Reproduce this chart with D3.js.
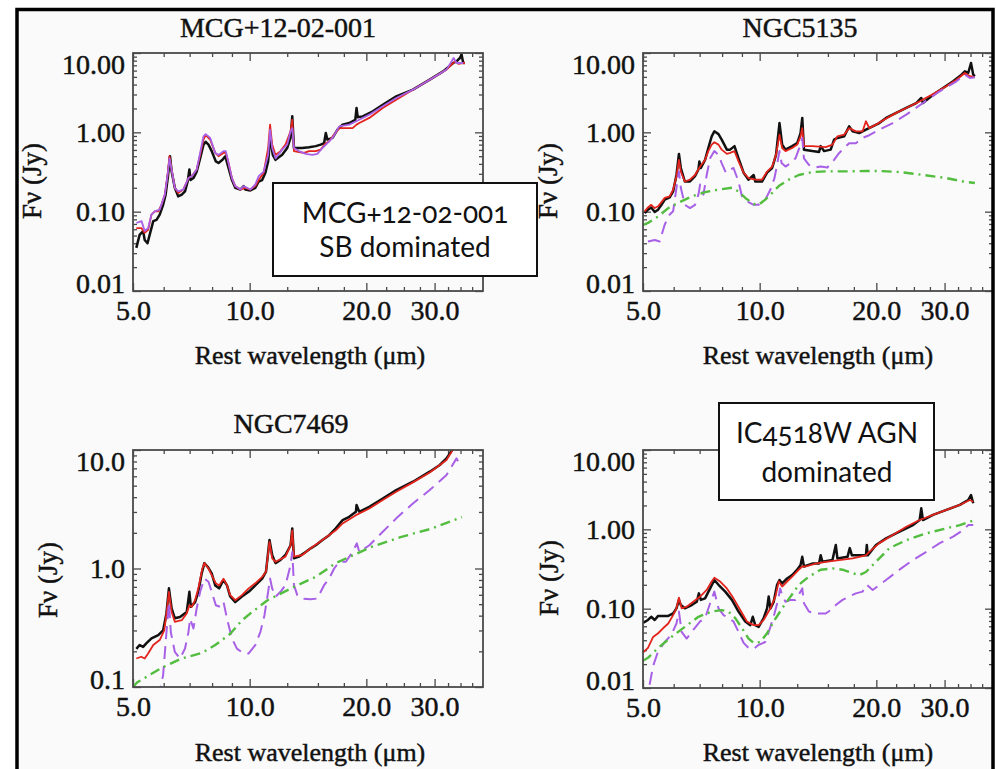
<!DOCTYPE html>
<html>
<head>
<meta charset="utf-8">
<script src="https://cdn.jsdelivr.net/npm/d3@7"></script>
<style>
  body { margin: 0; background: #ffffff; }
  svg { display: block; }
</style>
</head>
<body>
<div id="chart"></div>
<script>
// ---- data: [rest wavelength (um), flux density (Jy)] ----
const titles = ['MCG+12-02-001', 'NGC5135', 'NGC7469', 'IC4518W'];
const xTickValues = [5, 10, 20, 30];
const xMinorValues = [6, 7, 8, 9, 12.5, 15, 17.5, 22.5, 25, 27.5, 32.5, 35, 37.5];
const yTicksWide = [0.01, 0.1, 1, 10];
const yTicksNarrow = [0.1, 1, 10];
const boxTexts = [['MCG+12-02-001', 'SB dominated'], ['IC4518W AGN', 'dominated']];

// MCG+12-02-001
const mcgObserved = [[5.10,0.035],[5.20,0.051],[5.31,0.057],[5.36,0.044],[5.45,0.040],[5.52,0.051],[5.64,0.076],[5.75,0.079],[5.86,0.092],[5.98,0.122],[6.07,0.164],[6.16,0.29],[6.23,0.50],[6.29,0.32],[6.41,0.20],[6.54,0.156],[6.68,0.164],[6.81,0.18],[6.92,0.24],[6.99,0.34],[7.04,0.25],[7.16,0.265],[7.30,0.32],[7.45,0.47],[7.60,0.70],[7.70,0.76],[7.83,0.70],[7.98,0.58],[8.18,0.43],[8.31,0.41],[8.51,0.45],[8.65,0.50],[8.82,0.355],[9.00,0.25],[9.18,0.20],[9.46,0.19],[9.65,0.21],[9.74,0.19],[10.04,0.185],[10.34,0.20],[10.55,0.24],[10.77,0.25],[10.98,0.31],[11.16,0.43],[11.31,0.89],[11.47,0.52],[11.66,0.45],[12.13,0.52],[12.50,0.635],[12.75,0.85],[12.88,1.59],[13.01,0.635],[13.67,0.635],[14.23,0.65],[14.81,0.67],[15.25,0.70],[15.56,0.73],[15.72,0.98],[15.87,0.81],[16.36,0.85],[16.85,1.08],[17.37,1.25],[18.07,1.31],[18.73,1.44],[18.87,2.03],[19.0,1.55],[19.57,1.59],[20.78,1.84],[22.05,2.23],[23.89,2.84],[26.38,3.45],[29.15,4.61],[31.56,5.87],[33.51,7.48],[34.18,7.85],[34.87,8.65],[35.21,9.6],[35.57,7.48],[35.92,7.48]];
const mcgModel = [[5.10,0.062],[5.26,0.062],[5.36,0.054],[5.47,0.059],[5.58,0.092],[5.69,0.101],[5.81,0.101],[5.92,0.122],[6.04,0.164],[6.14,0.29],[6.21,0.50],[6.29,0.34],[6.41,0.20],[6.54,0.172],[6.74,0.19],[6.95,0.265],[7.09,0.28],[7.30,0.34],[7.45,0.52],[7.60,0.81],[7.70,0.92],[7.91,0.81],[8.15,0.55],[8.31,0.50],[8.56,0.55],[8.68,0.55],[8.82,0.41],[9.00,0.265],[9.18,0.21],[9.46,0.19],[9.74,0.20],[10.04,0.19],[10.34,0.21],[10.55,0.25],[10.87,0.31],[11.16,0.635],[11.29,1.25],[11.43,0.70],[11.66,0.52],[12.01,0.58],[12.37,0.70],[12.75,1.03],[12.88,1.44],[13.01,0.58],[13.40,0.565],[13.81,0.55],[14.23,0.58],[14.81,0.58],[15.25,0.605],[15.72,0.73],[16.04,0.77],[16.52,0.935],[17.02,1.13],[17.71,1.13],[18.43,1.13],[18.87,1.25],[19.18,1.31],[20.36,1.52],[22.05,2.03],[23.89,2.58],[26.38,3.45],[29.15,4.61],[32.20,6.17],[33.84,7.85],[34.52,7.3],[35.57,7.48],[35.92,7.48]];
const mcgStarburst = [[5.10,0.072],[5.26,0.076],[5.36,0.057],[5.47,0.062],[5.58,0.092],[5.69,0.101],[5.86,0.106],[6.04,0.164],[6.14,0.29],[6.21,0.47],[6.29,0.34],[6.41,0.20],[6.54,0.18],[6.74,0.19],[6.95,0.265],[7.09,0.28],[7.30,0.34],[7.45,0.55],[7.60,0.89],[7.70,0.95],[7.91,0.85],[8.15,0.55],[8.31,0.52],[8.56,0.58],[8.68,0.58],[8.82,0.41],[9.00,0.265],[9.18,0.21],[9.46,0.19],[9.65,0.21],[10.04,0.19],[10.34,0.22],[10.55,0.28],[10.87,0.32],[11.16,0.52],[11.29,1.08],[11.43,0.635],[11.66,0.47],[12.13,0.605],[12.50,0.70],[12.75,1.03],[12.88,1.13],[13.01,0.635],[13.40,0.58],[13.95,0.535],[14.52,0.52],[14.95,0.535],[15.41,0.635],[15.87,0.73],[16.36,0.85],[17.02,1.19],[18.07,1.25],[19.18,1.44],[20.36,1.67],[22.05,2.13],[23.89,2.71],[26.38,3.45],[29.15,4.61],[32.20,6.17],[33.6,8.65],[34.18,7.48],[35.57,7.48]];

// NGC5135
const ngc5135Observed = [[5.05,0.096],[5.15,0.106],[5.25,0.113],[5.36,0.099],[5.47,0.106],[5.58,0.122],[5.69,0.142],[5.86,0.151],[5.98,0.18],[6.10,0.29],[6.19,0.535],[6.26,0.355],[6.41,0.24],[6.61,0.24],[6.81,0.28],[6.95,0.34],[6.99,0.43],[7.05,0.355],[7.23,0.45],[7.37,0.635],[7.52,0.89],[7.64,1.03],[7.83,0.95],[7.98,0.81],[8.23,0.605],[8.39,0.605],[8.61,0.67],[8.82,0.47],[9.09,0.31],[9.36,0.253],[9.65,0.29],[9.74,0.24],[10.14,0.24],[10.45,0.31],[10.77,0.355],[11.02,0.52],[11.25,1.31],[11.43,0.70],[11.66,0.605],[12.13,0.67],[12.50,0.73],[12.75,0.98],[12.88,1.52],[13.01,0.605],[13.67,0.58],[14.23,0.565],[14.37,0.67],[14.66,0.58],[15.25,0.605],[15.56,0.81],[15.87,0.85],[16.52,0.89],[17.02,1.19],[17.37,1.03],[18.07,0.98],[18.80,1.08],[19.57,1.19],[20.36,1.31],[21.19,1.52],[22.50,1.76],[23.89,2.03],[25.35,2.34],[26.12,2.71],[26.38,2.34],[28.01,2.98],[29.73,3.62],[31.56,4.40],[33.18,5.33],[33.84,5.87],[34.52,5.6],[35.1,7.48],[35.57,5.33],[35.92,5.1]];
const ngc5135Model = [[5.05,0.101],[5.15,0.113],[5.25,0.122],[5.36,0.111],[5.47,0.117],[5.58,0.132],[5.69,0.149],[5.86,0.156],[5.98,0.189],[6.10,0.28],[6.19,0.45],[6.26,0.32],[6.41,0.24],[6.61,0.253],[6.81,0.29],[7.02,0.37],[7.23,0.45],[7.37,0.58],[7.52,0.70],[7.64,0.75],[7.83,0.70],[7.98,0.605],[8.23,0.535],[8.39,0.55],[8.61,0.58],[8.82,0.43],[9.09,0.31],[9.36,0.265],[9.74,0.253],[10.14,0.253],[10.45,0.32],[10.77,0.37],[11.02,0.52],[11.25,0.935],[11.43,0.635],[11.66,0.58],[12.13,0.635],[12.50,0.70],[12.75,0.89],[12.88,1.13],[13.01,0.67],[13.67,0.67],[14.81,0.65],[15.41,0.70],[15.87,0.89],[16.52,0.935],[17.02,1.13],[17.71,1.03],[18.43,1.03],[18.80,1.38],[19.18,1.13],[19.96,1.25],[21.19,1.49],[22.50,1.76],[23.89,2.03],[25.87,2.46],[28.01,3.03],[30.33,3.8],[32.20,4.61],[33.84,5.6],[34.87,5.1],[35.92,4.95]];
const ngc5135Starburst = [[5.15,0.042],[5.36,0.044],[5.52,0.042],[5.69,0.069],[5.86,0.092],[5.98,0.101],[6.10,0.20],[6.19,0.32],[6.26,0.20],[6.41,0.122],[6.61,0.111],[6.81,0.122],[6.95,0.164],[7.02,0.22],[7.16,0.164],[7.30,0.29],[7.45,0.47],[7.64,0.58],[7.83,0.52],[7.98,0.41],[8.18,0.31],[8.39,0.34],[8.56,0.355],[8.82,0.24],[9.00,0.156],[9.27,0.135],[9.65,0.122],[9.94,0.122],[10.34,0.142],[10.66,0.19],[10.92,0.265],[11.09,0.39],[11.25,0.58],[11.39,0.41],[11.66,0.37],[12.01,0.41],[12.37,0.47],[12.75,0.70],[12.88,0.85],[13.01,0.47],[13.40,0.39],[13.81,0.36],[14.37,0.37],[14.95,0.36],[15.56,0.45],[16.04,0.55],[16.52,0.635],[17.02,0.73],[17.71,0.73],[18.43,0.85],[19.18,0.92],[20.36,1.08],[22.05,1.31],[23.89,1.67],[26.38,2.34],[29.15,3.29],[32.20,4.40],[33.84,5.33],[34.87,4.84],[35.92,4.95]];
const ngc5135Agn = [[5.0,0.068],[5.15,0.072],[5.47,0.087],[5.81,0.111],[6.16,0.129],[6.68,0.156],[7.23,0.176],[7.83,0.19],[8.48,0.20],[8.82,0.18],[9.18,0.149],[9.65,0.125],[9.94,0.122],[10.34,0.142],[10.77,0.172],[11.20,0.21],[11.89,0.253],[12.62,0.29],[13.67,0.316],[14.81,0.322],[16.68,0.322],[18.80,0.325],[20.36,0.325],[22.95,0.316],[26.38,0.29],[30.33,0.265],[33.51,0.24],[35.92,0.23]];

// NGC7469
const ngc7469Observed = [[5.10,0.21],[5.20,0.226],[5.31,0.218],[5.41,0.233],[5.58,0.257],[5.81,0.274],[5.98,0.30],[6.10,0.42],[6.19,0.68],[6.29,0.46],[6.41,0.38],[6.61,0.39],[6.88,0.43],[6.99,0.636],[7.05,0.475],[7.23,0.52],[7.37,0.636],[7.52,0.91],[7.64,1.11],[7.80,1.03],[7.98,0.91],[8.15,0.72],[8.34,0.68],[8.56,0.80],[8.74,0.72],[8.91,0.58],[9.18,0.52],[9.55,0.58],[9.94,0.636],[10.34,0.72],[10.77,0.82],[11.02,0.94],[11.25,1.74],[11.43,1.30],[11.66,1.11],[12.01,1.18],[12.37,1.30],[12.75,1.57],[12.88,2.18],[13.01,1.22],[13.40,1.26],[13.95,1.38],[14.37,1.48],[14.81,1.57],[15.41,1.74],[16.04,1.91],[16.68,2.18],[17.37,2.56],[18.07,2.73],[18.80,3.01],[18.87,3.43],[19.18,3.01],[20.36,3.32],[22.05,3.90],[23.89,4.59],[26.38,5.40],[29.15,6.56],[30.94,7.47],[32.20,8.50],[33.18,9.8],[33.6,11]];
const ngc7469Model = [[5.10,0.174],[5.25,0.18],[5.36,0.174],[5.47,0.192],[5.64,0.226],[5.86,0.249],[6.02,0.30],[6.11,0.43],[6.19,0.636],[6.29,0.43],[6.41,0.355],[6.68,0.366],[6.88,0.418],[6.99,0.49],[7.09,0.475],[7.23,0.54],[7.37,0.68],[7.55,1.00],[7.64,1.11],[7.83,1.00],[7.98,0.88],[8.18,0.75],[8.34,0.72],[8.56,0.82],[8.74,0.72],[8.91,0.596],[9.18,0.54],[9.55,0.596],[9.94,0.68],[10.34,0.75],[10.77,0.85],[11.02,0.94],[11.25,1.68],[11.43,1.22],[11.66,1.14],[12.37,1.26],[12.75,1.57],[12.88,2.1],[13.01,1.26],[13.67,1.30],[14.37,1.48],[15.41,1.74],[16.68,2.1],[17.37,2.4],[18.80,2.82],[20.36,3.21],[22.05,3.78],[23.89,4.45],[26.38,5.33],[29.15,6.47],[32.20,8.24],[33.4,10.0],[34.0,11]];
const ngc7469Starburst = [[5.81,0.08],[5.98,0.126],[6.10,0.29],[6.19,0.52],[6.26,0.29],[6.41,0.198],[6.61,0.174],[6.81,0.211],[6.95,0.29],[7.02,0.378],[7.16,0.312],[7.30,0.46],[7.45,0.636],[7.64,0.823],[7.83,0.772],[7.98,0.636],[8.18,0.49],[8.39,0.475],[8.56,0.523],[8.74,0.378],[9.00,0.257],[9.27,0.211],[9.65,0.192],[9.94,0.192],[10.34,0.226],[10.66,0.292],[10.92,0.404],[11.16,0.636],[11.29,0.823],[11.43,0.678],[11.66,0.577],[12.01,0.636],[12.37,0.723],[12.75,1.07],[12.88,1.38],[13.01,0.723],[13.27,0.596],[13.67,0.558],[14.37,0.55],[14.95,0.558],[15.56,0.723],[16.04,0.823],[16.52,1.00],[17.02,1.14],[17.71,1.14],[18.43,1.38],[18.9,1.63],[19.18,1.38],[20.36,1.57],[22.05,2.04],[23.89,2.65],[26.38,3.54],[29.15,4.59],[32.20,6.15],[34.18,8.5],[34.87,7.47]];
const ngc7469Agn = [[5.0,0.10],[5.12,0.109],[5.92,0.145],[6.68,0.174],[7.50,0.193],[8.15,0.226],[8.90,0.28],[9.55,0.365],[10.06,0.42],[11.12,0.54],[13.01,0.70],[14.81,0.85],[16.68,1.11],[20.6,1.52],[24.5,1.84],[29.15,2.15],[35.3,2.71]];

// IC4518W
const ic4518Observed = [[5.0,0.066],[5.15,0.072],[5.25,0.079],[5.36,0.072],[5.47,0.081],[5.64,0.081],[5.81,0.081],[5.98,0.087],[6.10,0.101],[6.19,0.129],[6.26,0.111],[6.41,0.101],[6.68,0.111],[6.88,0.122],[6.97,0.156],[7.05,0.129],[7.23,0.135],[7.45,0.18],[7.64,0.23],[7.83,0.20],[8.15,0.164],[8.48,0.129],[8.82,0.092],[9.18,0.069],[9.46,0.062],[9.6,0.079],[9.74,0.062],[9.94,0.059],[10.24,0.076],[10.45,0.101],[10.55,0.142],[10.66,0.101],[10.87,0.122],[11.09,0.20],[11.25,0.23],[11.43,0.208],[11.77,0.24],[12.13,0.265],[12.50,0.31],[12.75,0.355],[12.88,0.45],[13.01,0.34],[13.67,0.37],[14.23,0.37],[14.37,0.47],[14.52,0.39],[15.41,0.41],[15.72,0.635],[15.87,0.43],[16.85,0.45],[17.08,0.58],[17.3,0.47],[18.07,0.47],[18.80,0.47],[18.9,0.635],[19.0,0.47],[19.96,0.635],[21.19,0.77],[22.95,0.935],[24.86,1.13],[25.87,1.31],[26.12,1.84],[26.38,1.31],[28.01,1.52],[30.33,1.76],[32.85,2.03],[34.52,2.34],[35.1,2.71],[35.57,2.13]];
const ic4518Model = [[5.0,0.028],[5.15,0.032],[5.31,0.044],[5.47,0.049],[5.64,0.057],[5.81,0.065],[5.98,0.083],[6.10,0.101],[6.19,0.138],[6.29,0.101],[6.48,0.106],[6.74,0.122],[7.02,0.142],[7.30,0.172],[7.52,0.22],[7.64,0.245],[7.91,0.22],[8.23,0.18],[8.56,0.135],[8.91,0.096],[9.27,0.069],[9.65,0.062],[9.94,0.062],[10.24,0.072],[10.66,0.101],[10.98,0.142],[11.20,0.22],[11.43,0.19],[11.77,0.22],[12.13,0.253],[12.62,0.31],[12.88,0.34],[13.14,0.34],[13.95,0.37],[14.81,0.39],[16.04,0.41],[17.37,0.43],[18.80,0.47],[19.18,0.52],[20.36,0.67],[22.05,0.85],[23.89,1.08],[25.87,1.31],[28.01,1.52],[30.33,1.76],[32.85,2.03],[34.87,2.34],[35.57,2.23]];
const ic4518Starburst = [[5.2,0.011],[5.31,0.019],[5.47,0.029],[5.69,0.038],[5.92,0.047],[6.10,0.065],[6.19,0.092],[6.29,0.051],[6.48,0.042],[6.74,0.054],[7.02,0.069],[7.23,0.076],[7.45,0.117],[7.64,0.164],[7.83,0.101],[8.07,0.083],[8.31,0.076],[8.56,0.069],[8.82,0.051],[9.09,0.037],[9.36,0.032],[9.65,0.031],[9.94,0.035],[10.34,0.038],[10.66,0.059],[10.92,0.087],[11.16,0.129],[11.29,0.18],[11.43,0.149],[11.66,0.122],[12.01,0.129],[12.37,0.129],[12.75,0.164],[12.88,0.18],[13.01,0.117],[13.40,0.092],[13.95,0.087],[14.81,0.087],[15.25,0.096],[15.72,0.111],[16.36,0.129],[17.02,0.142],[17.71,0.156],[18.43,0.164],[18.9,0.20],[19.57,0.172],[21.19,0.23],[22.95,0.31],[24.86,0.41],[26.91,0.52],[29.15,0.67],[31.56,0.81],[33.51,0.98],[34.52,1.13],[35.57,1.13]];
const ic4518Agn = [[5.0,0.022],[5.15,0.024],[5.47,0.032],[5.92,0.044],[6.41,0.059],[6.95,0.079],[7.52,0.092],[7.98,0.096],[8.31,0.092],[8.65,0.076],[9.00,0.057],[9.36,0.042],[9.65,0.037],[10.04,0.038],[10.45,0.049],[10.87,0.069],[11.43,0.101],[12.01,0.142],[12.62,0.20],[13.40,0.253],[14.37,0.31],[15.41,0.322],[16.36,0.31],[17.37,0.28],[18.07,0.265],[18.80,0.29],[19.96,0.39],[21.62,0.58],[23.89,0.73],[26.91,0.89],[30.33,1.03],[32.85,1.13],[35.92,1.31]];

// ---- styles ----
const W = 996, H = 769;
const serif = '"Liberation Serif", "Times New Roman", serif';
const style = {
  obs:   { stroke: '#111111', width: 2.5, dash: null },
  model: { stroke: '#e3241c', width: 1.8, dash: null },
  sb:    { stroke: '#a860e6', width: 2, dash: '13,7' },
  sbSolid: { stroke: '#a860e6', width: 1.8, dash: null },
  agn:   { stroke: '#52bd3e', width: 2.4, dash: '10,5,2,5' }
};

const panels = [
  { title: titles[0], left: 133, top: 53, width: 350, height: 238, yDomain: [0.01, 10], yTicks: yTicksWide, fmt: '.2f',
    titleX: 278, titleY: 37, yLabX: 41, yLabY: 181, xLabX: 310, xLabY: 364,
    series: [[mcgObserved, style.obs], [mcgModel, style.model], [mcgStarburst, style.sbSolid]] },
  { title: titles[1], left: 643, top: 53, width: 350, height: 238, yDomain: [0.01, 10], yTicks: yTicksWide, fmt: '.2f',
    titleX: 800, titleY: 37, yLabX: 557, yLabY: 181, xLabX: 818, xLabY: 364,
    series: [[ngc5135Observed, style.obs], [ngc5135Model, style.model], [ngc5135Starburst, style.sb], [ngc5135Agn, style.agn]] },
  { title: titles[2], left: 133, top: 450, width: 350, height: 237, yDomain: [0.1, 10], yTicks: yTicksNarrow, fmt: '.1f',
    titleX: 291, titleY: 433, yLabX: 57, yLabY: 580, xLabX: 310, xLabY: 761,
    series: [[ngc7469Observed, style.obs], [ngc7469Model, style.model], [ngc7469Starburst, style.sb], [ngc7469Agn, style.agn]] },
  { title: null, left: 643, top: 450, width: 350, height: 238, yDomain: [0.01, 10], yTicks: yTicksWide, fmt: '.2f',
    titleX: 800, titleY: 433, yLabX: 558, yLabY: 578, xLabX: 818, xLabY: 761,
    series: [[ic4518Observed, style.obs], [ic4518Model, style.model], [ic4518Starburst, style.sb], [ic4518Agn, style.agn]] }
];

const svg = d3.select('#chart').append('svg')
  .attr('width', W)
  .attr('height', H);

// outer frame background
svg.append('rect')
  .attr('x', 17).attr('y', 9.5)
  .attr('width', 976).attr('height', 800)
  .attr('fill', '#fafafa');

// the scanned figure's serif text reads heavier than plain Liberation Serif
function serifText(sel, size) {
  sel.attr('font-family', serif)
    .attr('font-size', size)
    .attr('fill', '#111')
    .attr('stroke', '#111')
    .attr('stroke-width', 0.45);
}

function styleAxis(sel) {
  sel.select('.domain').remove();
  sel.selectAll('line').attr('stroke', '#4a4a4a').attr('stroke-width', 1.3);
  sel.selectAll('text').call(serifText, 28);
}

panels.forEach((p, i) => {
  const g = svg.append('g').attr('transform', `translate(${p.left},${p.top})`);
  const x = d3.scaleLog().domain([5, 40]).range([0, p.width]);
  const y = d3.scaleLog().domain(p.yDomain).range([p.height, 0]);

  // minor y ticks: 2..9 in each decade
  const yMinor = [];
  const e0 = Math.round(Math.log10(p.yDomain[0])), e1 = Math.round(Math.log10(p.yDomain[1]));
  for (let e = e0; e < e1; e++) {
    for (let k = 2; k <= 9; k++) yMinor.push(+(k * Math.pow(10, e)).toPrecision(3));
  }

  // bottom axis (labels) + minor
  g.append('g').attr('transform', `translate(0,${p.height})`)
    .call(d3.axisBottom(x).tickValues(xTickValues).tickFormat(d3.format('.1f'))
      .tickSizeInner(-8).tickSizeOuter(0).tickPadding(9))
    .call(styleAxis);
  g.append('g').attr('transform', `translate(0,${p.height})`)
    .call(d3.axisBottom(x).tickValues(xMinorValues).tickFormat('').tickSizeInner(-4).tickSizeOuter(0))
    .call(styleAxis);
  // top axis
  g.append('g')
    .call(d3.axisTop(x).tickValues(xTickValues).tickFormat('').tickSizeInner(-8).tickSizeOuter(0))
    .call(styleAxis);
  g.append('g')
    .call(d3.axisTop(x).tickValues(xMinorValues).tickFormat('').tickSizeInner(-4).tickSizeOuter(0))
    .call(styleAxis);

  // left axis (labels) + minor
  const lo = p.yDomain[0], hi = p.yDomain[1];
  g.append('g')
    .call(d3.axisLeft(y).tickValues(p.yTicks).tickFormat(d3.format(p.fmt))
      .tickSizeInner(-8).tickSizeOuter(0).tickPadding(8))
    .call(styleAxis)
    .selectAll('text')
    .attr('dy', d => (d === hi ? '0.72em' : d === lo ? '0.05em' : '0.32em'));
  g.append('g')
    .call(d3.axisLeft(y).tickValues(yMinor).tickFormat('').tickSizeInner(-4).tickSizeOuter(0))
    .call(styleAxis);
  // right axis
  g.append('g').attr('transform', `translate(${p.width},0)`)
    .call(d3.axisRight(y).tickValues(p.yTicks).tickFormat('').tickSizeInner(-8).tickSizeOuter(0))
    .call(styleAxis);
  g.append('g').attr('transform', `translate(${p.width},0)`)
    .call(d3.axisRight(y).tickValues(yMinor).tickFormat('').tickSizeInner(-4).tickSizeOuter(0))
    .call(styleAxis);

  // clip for the spectra
  svg.append('clipPath').attr('id', `clip-${i}`)
    .append('rect').attr('width', p.width).attr('height', p.height);

  const line = d3.line()
    .x(d => x(d[0]))
    .y(d => y(d[1]));

  const curves = g.append('g').attr('clip-path', `url(#clip-${i})`);
  p.series.forEach(([data, s]) => {
    curves.append('path')
      .datum(data)
      .attr('d', line)
      .attr('fill', 'none')
      .attr('stroke', s.stroke)
      .attr('stroke-width', s.width)
      .attr('stroke-linejoin', 'round')
      .attr('stroke-dasharray', s.dash);
  });

  // plot box
  g.append('rect')
    .attr('width', p.width).attr('height', p.height)
    .attr('fill', 'none')
    .attr('stroke', '#4a4a4a')
    .attr('stroke-width', 1.8);

  // titles and axis labels
  if (p.title) {
    svg.append('text')
      .attr('x', p.titleX).attr('y', p.titleY)
      .attr('text-anchor', 'middle')
      .call(serifText, 28)
      .text(p.title);
  }
  svg.append('text')
    .attr('transform', `translate(${p.yLabX},${p.yLabY}) rotate(-90)`)
    .attr('text-anchor', 'middle')
    .call(serifText, 27)
    .text('Fν (Jy)');
  svg.append('text')
    .attr('x', p.xLabX).attr('y', p.xLabY)
    .attr('text-anchor', 'middle')
    .call(serifText, 26)
    .text('Rest wavelength (μm)');
});

// annotation boxes
const boxes = [
  { x: 273, y: 183, w: 264, h: 93, cx: 405, lines: boxTexts[0], base: [223, 257] },
  { x: 719, y: 403, w: 215, h: 97, cx: 827, lines: boxTexts[1], base: [443, 482] }
];
boxes.forEach(b => {
  svg.append('rect')
    .attr('x', b.x).attr('y', b.y).attr('width', b.w).attr('height', b.h)
    .attr('fill', '#ffffff').attr('stroke', '#111').attr('stroke-width', 2);
  b.lines.forEach((t, j) => {
    svg.append('text')
      .attr('x', b.cx).attr('y', b.base[j])
      .attr('text-anchor', 'middle')
      .attr('font-family', 'Lato, "Open Sans", sans-serif')
      .attr('font-size', 28)
      .style('font-variant-numeric', 'oldstyle-nums')
      .attr('fill', '#111')
      .text(t);
  });
});

// outer frame line
svg.append('rect')
  .attr('x', 17).attr('y', 9.5)
  .attr('width', 976).attr('height', 800)
  .attr('fill', 'none')
  .attr('stroke', '#000').attr('stroke-width', 3.5);
</script>
</body>
</html>
